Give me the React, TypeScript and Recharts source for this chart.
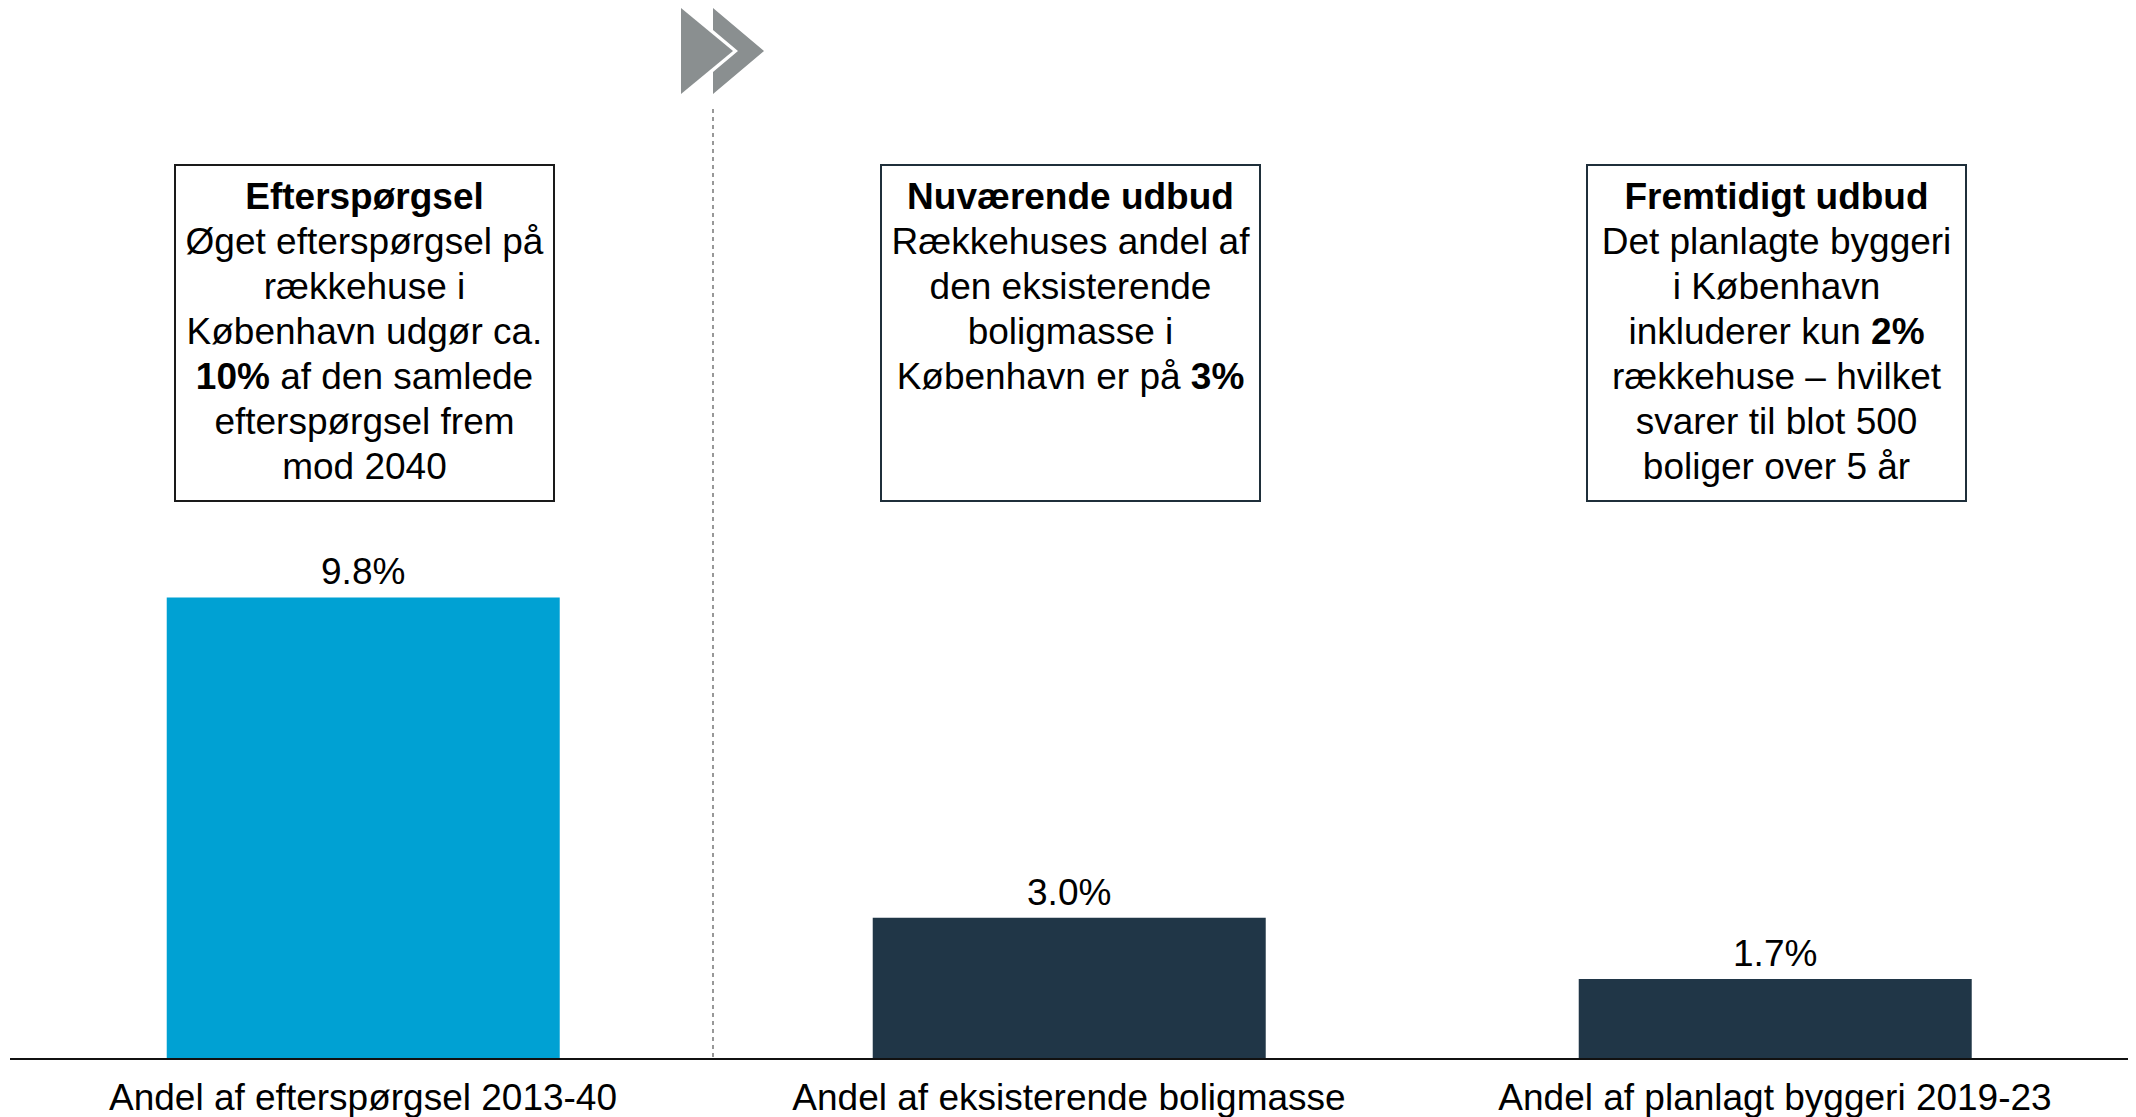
import { Bar, BarChart, Cell, LabelList, XAxis, YAxis } from "recharts";

const categories = [
  "Andel af efterspørgsel 2013-40",
  "Andel af eksisterende boligmasse",
  "Andel af planlagt byggeri 2019-23",
];
const shares = [9.8, 3.0, 1.7];
const barColors = ["#00a1d3", "#203647", "#203647"];

const boxTitles = ["Efterspørgsel", "Nuværende udbud", "Fremtidigt udbud"];
// each line: [plain before, bold part, plain after]
const boxLines: [string, string, string][][] = [
  [
    ["Øget efterspørgsel på", "", ""],
    ["rækkehuse i", "", ""],
    ["København udgør ca.", "", ""],
    ["", "10%", " af den samlede"],
    ["efterspørgsel frem", "", ""],
    ["mod 2040", "", ""],
  ],
  [
    ["Rækkehuses andel af", "", ""],
    ["den eksisterende", "", ""],
    ["boligmasse i", "", ""],
    ["København er på ", "3%", ""],
  ],
  [
    ["Det planlagte byggeri", "", ""],
    ["i København", "", ""],
    ["inkluderer kun ", "2%", ""],
    ["rækkehuse – hvilket", "", ""],
    ["svarer til blot 500", "", ""],
    ["boliger over 5 år", "", ""],
  ],
];
const boxBorders = ["#1a1a1a", "#1f2f3a", "#1f2f3a"];

const data = categories.map((name, i) => ({ name, share: shares[i] }));

const W = 2136;
const H = 1117;
const font = "'Liberation Sans', Arial, sans-serif";
const bandLeft = 10;
const band = (W - 8 - bandLeft) / categories.length;

export default function App() {
  return (
    <div style={{ position: "absolute", left: 0, top: 0, width: W, height: H, background: "#fff", fontFamily: font }}>
      <BarChart
        width={W}
        height={H}
        data={data}
        margin={{ top: 117, right: 8, bottom: 0, left: bandLeft }}
        barCategoryGap="22.2%"
      >
        <XAxis
          dataKey="name"
          height={58}
          tickLine={false}
          tickSize={6}
          tickMargin={19}
          axisLine={{ stroke: "#111", strokeWidth: 2 }}
          tick={{ fill: "#000", fontSize: 37, fontFamily: font }}
          interval={0}
        />
        <YAxis hide domain={[0, 20]} />
        <Bar dataKey="share" isAnimationActive={false}>
          {data.map((d, i) => (
            <Cell key={d.name} fill={barColors[i]} />
          ))}
          <LabelList
            dataKey="share"
            position="top"
            offset={13}
            formatter={(v: any) => `${Number(v).toFixed(1)}%`}
            style={{ fill: "#000", fontSize: 37, fontFamily: font }}
          />
        </Bar>
      </BarChart>

      <svg width={W} height={H} style={{ position: "absolute", left: 0, top: 0, pointerEvents: "none" }}>
        <line x1={713} x2={713} y1={109} y2={1057} stroke="#777" strokeWidth={1.5} strokeDasharray="4 4" />
        <polygon points="681,8 733,51 681,94" fill="#8a8f90" />
        <polygon points="713,8 764,51 713,94 713,72 738,51 713,30" fill="#8a8f90" />
      </svg>

      {boxTitles.map((title, i) => {
        const cx = bandLeft + band * (i + 0.5);
        return (
          <div
            key={title}
            style={{
              position: "absolute",
              left: cx - 189,
              top: 164,
              width: 381,
              height: 338,
              boxSizing: "border-box",
              border: `2px solid ${boxBorders[i]}`,
              paddingTop: 8,
              textAlign: "center",
              fontSize: 37,
              lineHeight: "45px",
              color: "#000",
              whiteSpace: "nowrap",
            }}
          >
            <div style={{ fontWeight: "bold" }}>{title}</div>
            {boxLines[i].map(([a, b, c], j) => (
              <div key={j}>
                {a}
                {b && <b>{b}</b>}
                {c}
              </div>
            ))}
          </div>
        );
      })}
    </div>
  );
}
